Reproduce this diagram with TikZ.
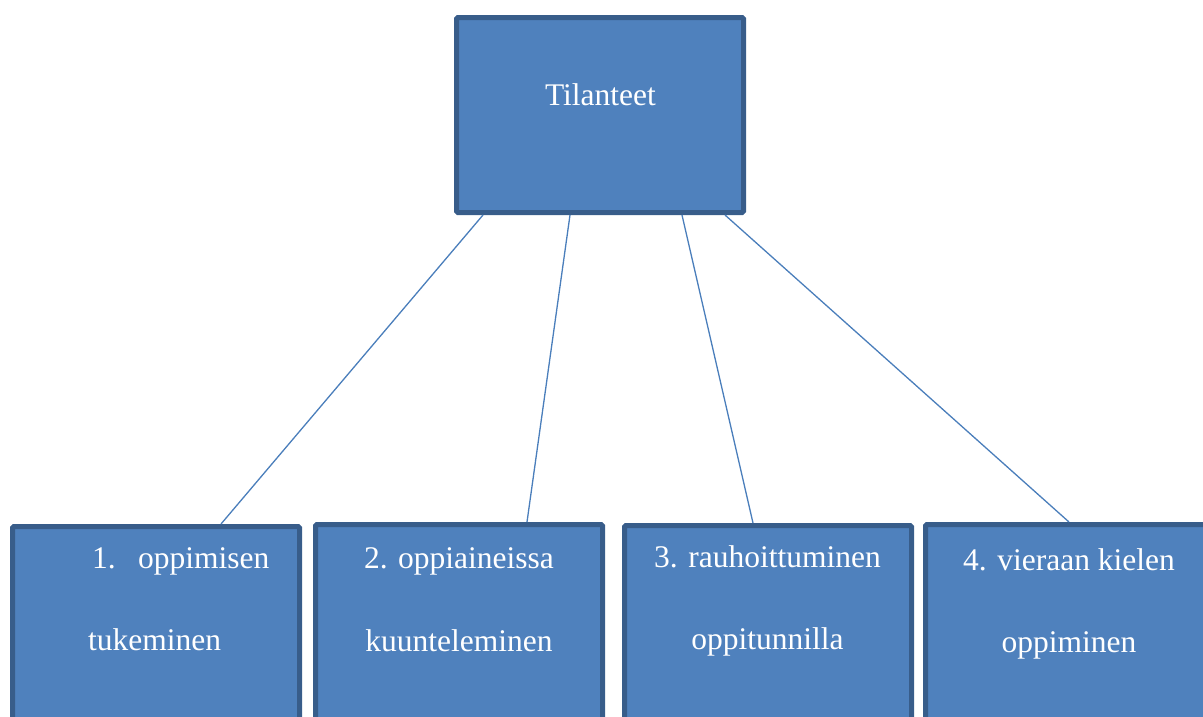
\documentclass[tikz,border=0pt]{standalone}
\usepackage{fontspec}
\setmainfont{Liberation Serif}
\definecolor{boxfill}{HTML}{4F81BD}
\definecolor{boxline}{HTML}{385D8A}
\definecolor{conn}{HTML}{4A7EBB}
\tikzset{
  box/.style={draw=boxline, fill=boxfill, line width=5pt, rounded corners=1.5pt, minimum width=287pt, inner sep=0pt},
  lbl/.style={text=white, inner sep=0pt, font=\fontsize{31.5}{38}\selectfont},
  link/.style={draw=conn, line width=1.3pt}
}
\begin{document}
\begin{tikzpicture}[x=1pt,y=-1pt]
\useasboundingbox (0,0) rectangle (1203,716);
\clip (0,0) rectangle (1203,716);
\node[box, minimum height=195pt] (top) at (600,115) {};
\node[box, minimum height=260pt, anchor=north west] (b1) at (10,524) {};
\node[box, minimum height=260pt, anchor=north west] (b2) at (313,522) {};
\node[box, minimum height=260pt, anchor=north west] (b3) at (622,523) {};
\node[box, minimum height=260pt, anchor=north west] (b4) at (923,522) {};
\draw[link] ([xshift=29pt]top.south west) -- ([xshift=211pt]b1.north west);
\draw[link] ([xshift=116pt]top.south west) -- ([xshift=214pt]b2.north west);
\draw[link] ([xshift=228pt]top.south west) -- ([xshift=131pt]b3.north west);
\draw[link] ([xshift=271pt]top.south west) -- ([xshift=146pt]b4.north west);
\node[lbl, anchor=base] (t0) at (600.5,105) {Tilanteet};
\node[lbl, anchor=base west] (t1a) at (92,568) {1.};
\node[lbl, anchor=base west] (t1b) at (138,568) {oppimisen};
\node[lbl, anchor=base west] (t1c) at (88,650) {tukeminen};
\node[lbl, anchor=base] (t2a) at (459,568) {2. oppiaineissa};
\node[lbl, anchor=base] (t2b) at (459,651) {kuunteleminen};
\node[lbl, anchor=base] (t3a) at (767.5,567) {3. rauhoittuminen};
\node[lbl, anchor=base] (t3b) at (767.5,649) {oppitunnilla};
\node[lbl, anchor=base] (t4a) at (1069,570) {4. vieraan kielen};
\node[lbl, anchor=base] (t4b) at (1069,652) {oppiminen};
\end{tikzpicture}
\end{document}
